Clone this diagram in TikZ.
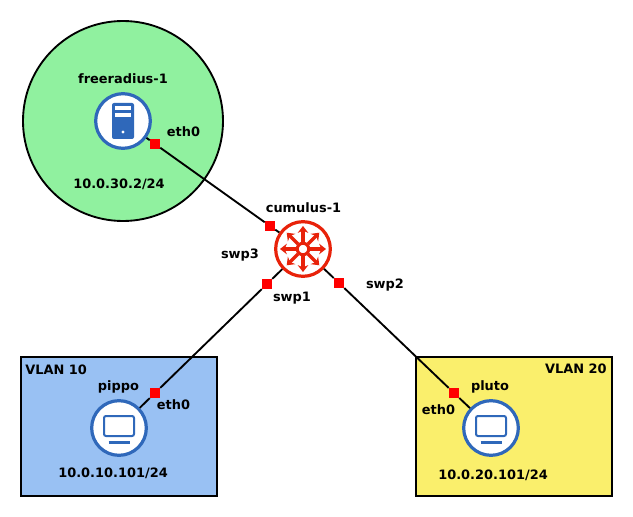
\documentclass[tikz,border=0pt]{standalone}
\usepackage{fontspec}
\setmainfont{DejaVu Sans}
\usetikzlibrary{arrows.meta}
\definecolor{radiusgreen}{HTML}{90F19F}
\definecolor{vlanblue}{HTML}{99C1F3}
\definecolor{vlanyellow}{HTML}{FAEF6C}
\definecolor{hostblue}{HTML}{2F68BA}
\definecolor{routerred}{HTML}{E8220A}
\begin{document}
\begin{tikzpicture}[x=0.75pt,y=-0.75pt]
    \tikzstyle{vlan} = [rectangle, draw=black, line width=1.5pt, minimum width=147pt, minimum height=104pt, inner sep=0pt]
    \tikzstyle{host} = [circle, fill=white, draw=hostblue, line width=2.4pt, minimum size=41pt, inner sep=0pt]
    \tikzstyle{router} = [circle, fill=white, draw=routerred, line width=2.4pt, minimum size=41pt, inner sep=0pt]
    \tikzstyle{port} = [rectangle, fill=red, minimum size=7.5pt, inner sep=0pt]
    \tikzstyle{lbl} = [font=\fontsize{9.7}{11}\selectfont\bfseries, inner sep=0pt, text=black]
    \tikzstyle{link} = [line width=1.4pt, black]
    \tikzstyle{icon} = [hostblue, line width=1.5pt]
    \tikzstyle{spoke} = [routerred, line width=2.4pt, -{Stealth[length=5.2pt,width=8pt,inset=1.8pt]}]
    \useasboundingbox (0,0) rectangle (633,517);
    % areas
    \node (radiuszone) [circle, fill=radiusgreen, draw=black, line width=1.4pt, minimum size=150pt, inner sep=0pt] at (123, 121) {};
    \node (vlan10) [vlan, fill=vlanblue] at (119, 426.5) {};
    \node (vlan20) [vlan, fill=vlanyellow] at (514, 426.5) {};
    % devices
    \node (freeradius) [host] at (123, 121) {};
    \node (cumulus) [router] at (303, 249) {};
    \node (pippo) [host] at (119, 428) {};
    \node (pluto) [host] at (491, 428) {};
    % ports
    \node (eth0radius) [port] at (155, 144) {};
    \node (swp3) [port] at (270, 226) {};
    \node (swp1) [port] at (267, 284) {};
    \node (swp2) [port] at (339, 283) {};
    \node (eth0pippo) [port] at (155, 393) {};
    \node (eth0pluto) [port] at (454, 393) {};
    % links
    \draw[link] (freeradius) -- (eth0radius);
    \draw[link] (eth0radius) -- (swp3);
    \draw[link] (swp3) -- (cumulus);
    \draw[link] (cumulus) -- (swp1);
    \draw[link] (swp1) -- (eth0pippo);
    \draw[link] (eth0pippo) -- (pippo);
    \draw[link] (cumulus) -- (swp2);
    \draw[link] (swp2) -- (eth0pluto);
    \draw[link] (eth0pluto) -- (pluto);
    % server icon
    \fill[hostblue, rounded corners=1.5pt] (112, 103) rectangle (134, 139);
    \fill[white] (115, 106) rectangle (131, 110);
    \fill[white] (115, 113) rectangle (131, 117);
    \fill[white] (123, 132) circle (1.3pt);
    % screen icons
    \foreach \cx in {119, 491} {
        \draw[icon, rounded corners=1.5pt] (\cx-15, 416) rectangle (\cx+15, 436);
        \draw[icon, line width=1.9pt] (\cx-10.5, 442.5) -- (\cx+10.5, 442.5);
    }
    % router icon
    \foreach \ang in {0, 45, ..., 315} {
        \draw[spoke] (303, 249) ++(\ang:7) -- ++(\ang:16);
    }
    \draw[routerred, fill=white, line width=2.3pt] (303, 249) circle (4.3pt);
    % labels
    \node (lblfreeradius) [lbl] at (123, 79) {freeradius-1};
    \node (lbleth0a) [lbl] at (183.5, 132) {eth0};
    \node (lblipradius) [lbl] at (119, 184) {10.0.30.2/24};
    \node (lblcumulus) [lbl] at (303.5, 207.5) {cumulus-1};
    \node (lblswp3) [lbl] at (240, 255.5) {swp3};
    \node (lblswp1) [lbl] at (292, 298.5) {swp1};
    \node (lblswp2) [lbl] at (385, 285.5) {swp2};
    \node (lblvlan10) [lbl, anchor=west] at (25, 370) {VLAN 10};
    \node (lblpippo) [lbl] at (118.5, 386.5) {pippo};
    \node (lbleth0b) [lbl] at (173.5, 405) {eth0};
    \node (lblippippo) [lbl] at (113, 473) {10.0.10.101/24};
    \node (lblvlan20) [lbl, anchor=east] at (607, 369) {VLAN 20};
    \node (lblpluto) [lbl] at (490, 386.5) {pluto};
    \node (lbleth0c) [lbl] at (438.5, 410) {eth0};
    \node (lblippluto) [lbl] at (493, 475) {10.0.20.101/24};
\end{tikzpicture}
\end{document}
